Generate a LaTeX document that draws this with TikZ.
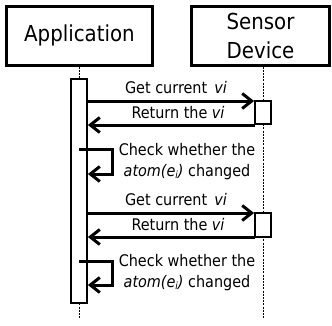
\documentclass[tikz,border=0pt]{standalone}
\usepackage{fontspec}
\setmainfont{DejaVu Sans Condensed}
\usetikzlibrary{arrows.meta}
\begin{document}
\begin{tikzpicture}[x=1pt,y=-1pt,
  actor/.style={draw,line width=3pt,fill=white,inner sep=0pt,align=center,font=\fontsize{22}{29}\selectfont},
  lifeline/.style={line width=1pt,dash pattern=on 2pt off 1.2pt},
  activation/.style={draw,line width=1.8pt,fill=white,inner sep=0pt},
  msg/.style={line width=3pt,-{Straight Barb[length=9.5pt,width=15pt,line width=3pt]}},
  lbl/.style={inner sep=0pt,font=\fontsize{16}{21}\selectfont}]
\useasboundingbox (0,0) rectangle (332,325);
% participants
\node[actor,minimum width=146pt,minimum height=59pt] (app) at (79.5,35.5) {Application};
\node[actor,minimum width=138pt,minimum height=59pt] (sen) at (260.5,35.5) {Sensor\\Device};
% lifelines
\coordinate (appEnd) at (79,318);
\coordinate (senEnd) at (263,318);
\draw[lifeline] (app.south -| appEnd) -- (appEnd);
\draw[lifeline] (sen.south -| senEnd) -- (senEnd);
% activation bars
\node[activation,minimum width=16pt,minimum height=224pt] (appAct) at (79,191) {};
\node[activation,minimum width=16pt,minimum height=23pt] (senAct1) at (263,112.5) {};
\node[activation,minimum width=16pt,minimum height=24pt] (senAct2) at (263,225) {};
% first query
\coordinate (g1) at (87,101);
\draw[msg] (g1) -- (g1 -| senAct1.west);
\node[lbl] (tg1) at (176,88) {Get current \,\textit{vi}};
\coordinate (r1) at (255,125);
\draw[msg] (r1) -- (r1 -| appAct.east);
\node[lbl] (tr1) at (178,113) {Return the \textit{vi}};
\coordinate (s1a) at (79,149);
\coordinate (s1b) at (112,149);
\coordinate (s1c) at (112,174);
\draw[msg] (s1a) -- (s1b) -- (s1c) -- (s1c -| appAct.east);
\node[lbl,align=center] (tc1) at (187,162) {Check whether the\\\textit{atom(e{\fontsize{10}{10}\selectfont\raisebox{-1.5pt}{i}})} changed};
% second query
\coordinate (g2) at (87,213);
\draw[msg] (g2) -- (g2 -| senAct2.west);
\node[lbl] (tg2) at (176,200) {Get current \,\textit{vi}};
\coordinate (r2) at (255,237);
\draw[msg] (r2) -- (r2 -| appAct.east);
\node[lbl] (tr2) at (178,225) {Return the \textit{vi}};
\coordinate (s2a) at (79,261);
\coordinate (s2b) at (112,261);
\coordinate (s2c) at (112,285);
\draw[msg] (s2a) -- (s2b) -- (s2c) -- (s2c -| appAct.east);
\node[lbl,align=center] (tc2) at (187,273) {Check whether the\\\textit{atom(e{\fontsize{10}{10}\selectfont\raisebox{-1.5pt}{i}})} changed};
\end{tikzpicture}
\end{document}
